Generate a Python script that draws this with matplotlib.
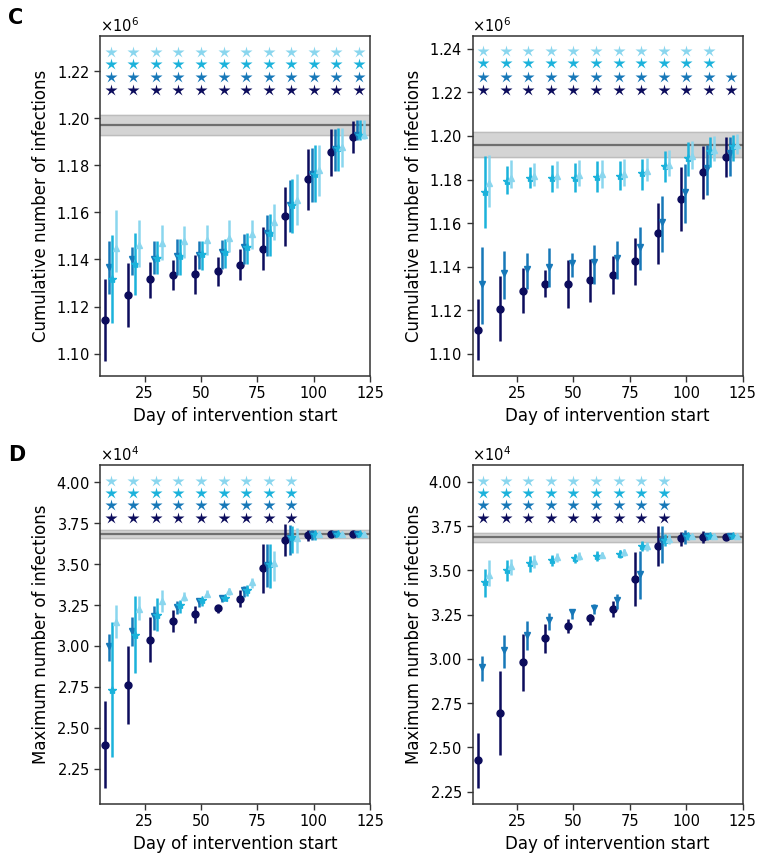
import matplotlib
matplotlib.use('Agg')
import matplotlib.pyplot as plt
from matplotlib.ticker import ScalarFormatter, MultipleLocator

# --- data ---
days = [7.5, 17.5, 27.5, 37.5, 47.5, 57.5, 67.5, 77.5, 87.5, 97.5, 107.5, 117.5]
star_days = [10, 20, 30, 40, 50, 60, 70, 80, 90, 100, 110, 120]

# C left: cumulative infections (x1e6); rows = navy, blue, cyan, light
cum_l_mid = [
    [1.1143, 1.1248, 1.1316, 1.1335, 1.1339, 1.1352, 1.1377, 1.1445, 1.1583, 1.1740, 1.1855, 1.1919],
    [1.1370, 1.1400, 1.1403, 1.1414, 1.1421, 1.1431, 1.1452, 1.1511, 1.1630, 1.1765, 1.1871, 1.1928],
    [1.1318, 1.1382, 1.1406, 1.1414, 1.1424, 1.1431, 1.1452, 1.1512, 1.1630, 1.1765, 1.1874, 1.1928],
    [1.1448, 1.1462, 1.1471, 1.1477, 1.1484, 1.1491, 1.1509, 1.1559, 1.1654, 1.1779, 1.1878, 1.1930],
]
cum_l_lo = [
    [1.0970, 1.1112, 1.1237, 1.1272, 1.1254, 1.1289, 1.1312, 1.1355, 1.1457, 1.1611, 1.1753, 1.1850],
    [1.1254, 1.1336, 1.1339, 1.1335, 1.1359, 1.1359, 1.1379, 1.1414, 1.1518, 1.1645, 1.1774, 1.1908],
    [1.1131, 1.1251, 1.1339, 1.1335, 1.1356, 1.1362, 1.1379, 1.1414, 1.1514, 1.1645, 1.1774, 1.1908],
    [1.1346, 1.1367, 1.1396, 1.1406, 1.1418, 1.1431, 1.1445, 1.1481, 1.1545, 1.1669, 1.1793, 1.1913],
]
cum_l_hi = [
    [1.1318, 1.1384, 1.1391, 1.1396, 1.1421, 1.1410, 1.1443, 1.1538, 1.1706, 1.1867, 1.1956, 1.1989],
    [1.1478, 1.1452, 1.1478, 1.1485, 1.1479, 1.1484, 1.1510, 1.1590, 1.1736, 1.1874, 1.1956, 1.1991],
    [1.1502, 1.1514, 1.1478, 1.1485, 1.1479, 1.1485, 1.1513, 1.1594, 1.1740, 1.1885, 1.1959, 1.1991],
    [1.1610, 1.1566, 1.1545, 1.1542, 1.1545, 1.1566, 1.1566, 1.1637, 1.1764, 1.1888, 1.1959, 1.1994],
]

# C right
cum_r_mid = [
    [1.1112, 1.1208, 1.1291, 1.1323, 1.1323, 1.1337, 1.1362, 1.1425, 1.1553, 1.1711, 1.1834, 1.1904],
    [1.1320, 1.1369, 1.1389, 1.1400, 1.1415, 1.1420, 1.1438, 1.1492, 1.1607, 1.1742, 1.1855, 1.1921],
    [1.1742, 1.1794, 1.1806, 1.1806, 1.1806, 1.1811, 1.1818, 1.1829, 1.1863, 1.1898, 1.1929, 1.1952],
    [1.1786, 1.1809, 1.1817, 1.1818, 1.1821, 1.1825, 1.1826, 1.1840, 1.1867, 1.1906, 1.1936, 1.1959],
]
cum_r_lo = [
    [1.0971, 1.1060, 1.1190, 1.1259, 1.1213, 1.1239, 1.1274, 1.1316, 1.1412, 1.1564, 1.1711, 1.1811],
    [1.1136, 1.1254, 1.1300, 1.1307, 1.1354, 1.1323, 1.1346, 1.1386, 1.1466, 1.1601, 1.1730, 1.1818],
    [1.1576, 1.1733, 1.1763, 1.1742, 1.1742, 1.1742, 1.1753, 1.1753, 1.1788, 1.1818, 1.1857, 1.1883],
    [1.1676, 1.1760, 1.1768, 1.1760, 1.1768, 1.1760, 1.1768, 1.1791, 1.1814, 1.1849, 1.1883, 1.1917],
]
cum_r_hi = [
    [1.1251, 1.1356, 1.1392, 1.1383, 1.1431, 1.1435, 1.1451, 1.1530, 1.1691, 1.1858, 1.1955, 1.1996],
    [1.1489, 1.1472, 1.1464, 1.1484, 1.1463, 1.1500, 1.1518, 1.1584, 1.1726, 1.1870, 1.1956, 1.1996],
    [1.1906, 1.1860, 1.1857, 1.1867, 1.1875, 1.1883, 1.1883, 1.1895, 1.1929, 1.1972, 1.1996, 1.2005],
    [1.1914, 1.1890, 1.1875, 1.1883, 1.1890, 1.1890, 1.1895, 1.1898, 1.1936, 1.1978, 1.1998, 1.2008],
]

# D left: maximum infections (x1e4)
max_l_mid = [
    [2.398, 2.764, 3.039, 3.154, 3.193, 3.230, 3.289, 3.476, 3.644, 3.679, 3.683, 3.683],
    [2.998, 3.093, 3.181, 3.238, 3.272, 3.291, 3.339, 3.496, 3.659, 3.683, 3.683, 3.683],
    [2.734, 3.069, 3.191, 3.252, 3.283, 3.293, 3.343, 3.502, 3.665, 3.683, 3.683, 3.683],
    [3.144, 3.226, 3.272, 3.297, 3.319, 3.337, 3.388, 3.506, 3.659, 3.683, 3.683, 3.683],
]
max_l_lo = [
    [2.134, 2.526, 2.900, 3.085, 3.140, 3.201, 3.236, 3.323, 3.547, 3.638, 3.669, 3.673],
    [2.907, 2.998, 3.096, 3.195, 3.238, 3.266, 3.299, 3.360, 3.557, 3.644, 3.669, 3.673],
    [2.323, 2.835, 3.089, 3.201, 3.246, 3.272, 3.303, 3.354, 3.567, 3.644, 3.669, 3.673],
    [3.049, 3.161, 3.205, 3.272, 3.299, 3.313, 3.354, 3.394, 3.567, 3.663, 3.669, 3.673],
]
max_l_hi = [
    [2.666, 3.002, 3.177, 3.222, 3.246, 3.250, 3.339, 3.624, 3.746, 3.709, 3.697, 3.693],
    [3.073, 3.177, 3.246, 3.276, 3.293, 3.307, 3.364, 3.624, 3.740, 3.709, 3.697, 3.693],
    [3.144, 3.303, 3.293, 3.283, 3.293, 3.313, 3.370, 3.624, 3.730, 3.705, 3.697, 3.693],
    [3.252, 3.307, 3.339, 3.327, 3.339, 3.354, 3.415, 3.577, 3.720, 3.703, 3.697, 3.693],
]

# D right
max_r_mid = [
    [2.427, 2.694, 2.980, 3.118, 3.187, 3.229, 3.283, 3.451, 3.639, 3.683, 3.688, 3.688],
    [2.954, 3.052, 3.137, 3.221, 3.263, 3.287, 3.334, 3.481, 3.664, 3.692, 3.692, 3.692],
    [3.432, 3.504, 3.541, 3.560, 3.570, 3.579, 3.594, 3.639, 3.669, 3.692, 3.692, 3.692],
    [3.476, 3.523, 3.551, 3.575, 3.583, 3.589, 3.602, 3.636, 3.677, 3.692, 3.692, 3.692],
]
max_r_lo = [
    [2.270, 2.459, 2.816, 3.033, 3.146, 3.191, 3.234, 3.300, 3.526, 3.639, 3.654, 3.673],
    [2.873, 2.948, 3.048, 3.161, 3.225, 3.253, 3.282, 3.338, 3.541, 3.651, 3.673, 3.677],
    [3.349, 3.438, 3.489, 3.526, 3.541, 3.551, 3.570, 3.607, 3.636, 3.673, 3.677, 3.683],
    [3.410, 3.476, 3.515, 3.547, 3.558, 3.568, 3.580, 3.608, 3.649, 3.677, 3.680, 3.683],
]
max_r_hi = [
    [2.581, 2.929, 3.142, 3.199, 3.225, 3.255, 3.329, 3.602, 3.749, 3.715, 3.720, 3.707],
    [3.018, 3.137, 3.212, 3.259, 3.282, 3.310, 3.368, 3.607, 3.749, 3.726, 3.711, 3.707],
    [3.508, 3.560, 3.579, 3.589, 3.594, 3.607, 3.617, 3.664, 3.707, 3.711, 3.707, 3.702],
    [3.556, 3.562, 3.585, 3.600, 3.604, 3.606, 3.620, 3.662, 3.705, 3.707, 3.704, 3.702],
]

# baseline (no intervention): mean, lower, upper
cum_l_base = [1.1970, 1.1928, 1.2013]
cum_r_base = [1.1959, 1.1901, 1.2016]
max_l_base = [3.685, 3.659, 3.709]
max_r_base = [3.686, 3.662, 3.709]

# significance stars: number of columns per series (navy, blue, cyan, light)
cum_l_nstars = [12, 12, 12, 12]
cum_r_nstars = [12, 12, 11, 11]
max_l_nstars = [9, 9, 9, 9]
max_r_nstars = [9, 9, 9, 9]

# --- style ---
COLORS = ['#0c0c5c', '#1778b8', '#1bb2db', '#8ad6ee']
MARKERS = ['o', 'v', '*', '^']
OFFSETS = [0.0, 1.8, 3.1, 5.0]


def draw_panel(ax, scale, mid, lo, hi, base, nstars, star_y, ylim, step):
    # grey band = baseline range, dark line = baseline mean
    ax.axhspan(base[1] * scale, base[2] * scale, color='#d4d4d4', zorder=1)
    ax.axhline(base[1] * scale, color='#bdbdbd', lw=1.0, zorder=1)
    ax.axhline(base[2] * scale, color='#bdbdbd', lw=1.0, zorder=1)
    ax.axhline(base[0] * scale, color='#6f6f6f', lw=1.6, zorder=2)

    for i in range(4):
        x = [d + OFFSETS[i] for d in days]
        y = [v * scale for v in mid[i]]
        yerr = [[(m - l) * scale for m, l in zip(mid[i], lo[i])],
                [(h - m) * scale for m, h in zip(mid[i], hi[i])]]
        ax.errorbar(x, y, yerr=yerr, fmt=MARKERS[i], color=COLORS[i],
                    ms=5 if MARKERS[i] != '*' else 6, elinewidth=1.8,
                    capsize=0, zorder=3 + i)
        n = nstars[i]
        ax.plot(star_days[:n], [star_y[i] * scale] * n, '*', color=COLORS[i],
                ms=9, mec='none', zorder=3)

    ax.set_xlim(5.2, 125)
    ax.set_ylim(ylim[0] * scale, ylim[1] * scale)
    ax.xaxis.set_major_locator(MultipleLocator(25))
    ax.yaxis.set_major_locator(MultipleLocator(step * scale))
    fmt = ScalarFormatter(useMathText=True)
    fmt.set_powerlimits((0, 0))
    ax.yaxis.set_major_formatter(fmt)
    ax.tick_params(labelsize=10.5, length=4, width=1, color='#333333')
    for sp in ax.spines.values():
        sp.set_color('#333333')
        sp.set_linewidth(1.1)
    ax.yaxis.get_offset_text().set_fontsize(10.5)
    ax.set_xlabel('Day of intervention start', fontsize=12)


fig = plt.figure(figsize=(7.58, 8.55), dpi=100)
W, H = 758, 855
ax_tl = fig.add_axes([100 / W, (H - 376) / H, 270 / W, 340 / H])
ax_tr = fig.add_axes([472.5 / W, (H - 376) / H, 270 / W, 340 / H])
ax_bl = fig.add_axes([100 / W, (H - 804) / H, 270 / W, 339 / H])
ax_br = fig.add_axes([472.5 / W, (H - 804) / H, 270 / W, 339 / H])

draw_panel(ax_tl, 1e6, cum_l_mid, cum_l_lo, cum_l_hi, cum_l_base, cum_l_nstars,
           [1.2119, 1.2176, 1.2230, 1.2281], (1.0905, 1.2349), 0.02)
draw_panel(ax_tr, 1e6, cum_r_mid, cum_r_lo, cum_r_hi, cum_r_base, cum_r_nstars,
           [1.2211, 1.2272, 1.2334, 1.2389], (1.0899, 1.2458), 0.02)
draw_panel(ax_bl, 1e4, max_l_mid, max_l_lo, max_l_hi, max_l_base, max_l_nstars,
           [3.780, 3.860, 3.937, 4.010], (2.035, 4.105), 0.25)
draw_panel(ax_br, 1e4, max_r_mid, max_r_lo, max_r_hi, max_r_base, max_r_nstars,
           [3.795, 3.868, 3.939, 4.007], (2.180, 4.095), 0.25)

for ax in (ax_tl, ax_tr):
    ax.set_ylabel('Cumulative number of infections', fontsize=12)
for ax in (ax_bl, ax_br):
    ax.set_ylabel('Maximum number of infections', fontsize=12)

fig.text(8 / W, 1 - 18 / H, 'C', fontsize=15, fontweight='bold', va='center', ha='left')
fig.text(8 / W, 1 - 455 / H, 'D', fontsize=15, fontweight='bold', va='center', ha='left')

fig.savefig('out.png', dpi=100)
